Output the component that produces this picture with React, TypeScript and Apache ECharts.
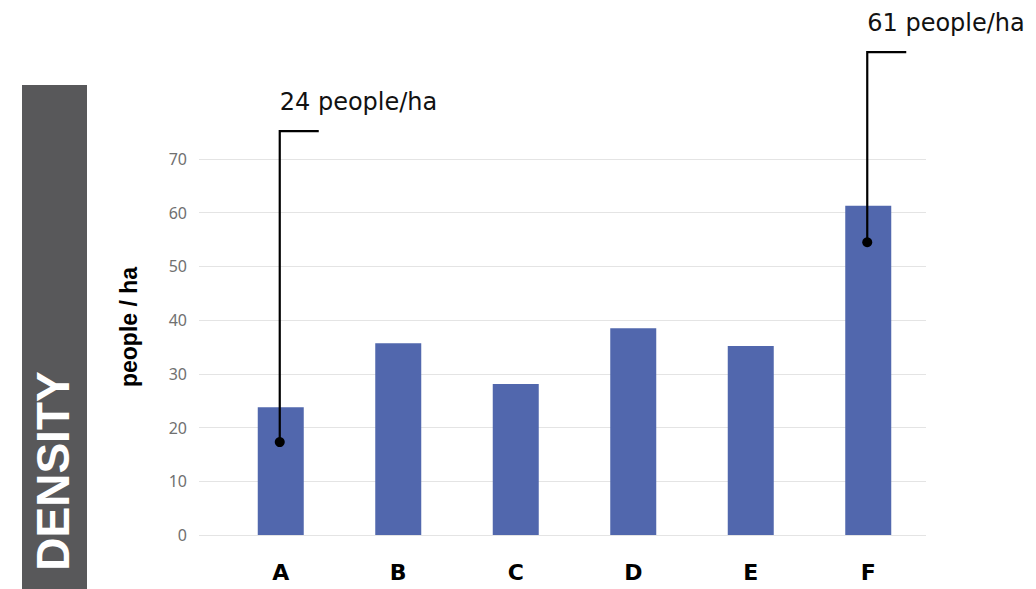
import React, { useEffect, useRef } from "react";
import * as echarts from "echarts";

// Population density per site
const categories = ["A", "B", "C", "D", "E", "F"];
const densityValues = [23.8, 35.7, 28.1, 38.5, 35.2, 61.3];
const yTicks = [0, 10, 20, 30, 40, 50, 60, 70];

// Callouts: which bars are annotated, the stated value, where the dot sits and how high the leader rises
const calloutCategories = ["A", "F"];
const calloutValues = [24, 61];
const calloutDotAt = [17.3, 54.5];
const calloutTopAt = [75.2, 89.9];

const BAR_COLOR = "#5167ad";

export default function App() {
  const ref = useRef<HTMLDivElement>(null);

  useEffect(() => {
    if (!ref.current) return;
    const chart = echarts.init(ref.current, undefined, { renderer: "svg" });
    const yMin = yTicks[0];
    const yMax = yTicks[yTicks.length - 1];

    chart.setOption({
      animation: false,
      grid: [
        // gridlines + tick labels (slightly wider than the bar area)
        { left: 199, right: 110, top: 159, bottom: 54 },
        // bars
        { left: 222, right: 109, top: 159, bottom: 54 },
      ],
      xAxis: [
        { gridIndex: 0, type: "value", show: false, min: 0, max: 1 },
        {
          gridIndex: 1,
          type: "category",
          data: categories,
          axisLine: { show: false },
          axisTick: { show: false },
          axisLabel: {
            color: "#000",
            fontFamily: "DejaVu Sans",
            fontWeight: "bold",
            fontSize: 22,
            margin: 26,
          },
        },
      ],
      yAxis: [
        {
          gridIndex: 0,
          type: "value",
          min: yMin,
          max: yMax,
          interval: 10,
          axisLine: { show: false },
          axisTick: { show: false },
          splitLine: { lineStyle: { color: "#e4e4e4", width: 1 } },
          axisLabel: {
            color: "#707070",
            fontFamily: "Noto Sans",
            fontSize: 16,
            margin: 12,
          },
          name: "people / ha",
          nameLocation: "middle",
          nameGap: 59,
          nameTextStyle: {
            color: "#000",
            fontFamily: "Liberation Sans",
            fontWeight: "bold",
            fontSize: 23,
            padding: [0, 0, 0, 40],
          },
        },
        {
          gridIndex: 1,
          type: "value",
          min: yMin,
          max: yMax,
          interval: 10,
          show: false,
          splitLine: { show: false },
        },
      ],
      series: [
        {
          type: "bar",
          xAxisIndex: 1,
          yAxisIndex: 1,
          data: densityValues,
          barWidth: 46,
          itemStyle: { color: BAR_COLOR },
        },
      ],
    });

    const elements: any[] = [
      {
        type: "rect",
        shape: { x: 22, y: 85, width: 65, height: 504 },
        style: { fill: "#58585a" },
        silent: true,
      },
      {
        type: "text",
        x: 53,
        y: 471,
        rotation: Math.PI / 2,
        style: {
          text: "DENSITY",
          fill: "#ffffff",
          font: "bold 46px 'Liberation Sans', Arial, sans-serif",
          align: "center",
          verticalAlign: "middle",
        },
        silent: true,
      },
    ];

    // Callout leaders positioned from the data through the bar axes
    calloutCategories.forEach((cat, i) => {
      const dot = chart.convertToPixel({ xAxisIndex: 1, yAxisIndex: 1 }, [cat, calloutDotAt[i]]) as number[];
      const top = chart.convertToPixel({ xAxisIndex: 1, yAxisIndex: 1 }, [cat, calloutTopAt[i]]) as number[];
      const x = dot[0] - 1;
      elements.push({
        type: "polyline",
        z: 100,
        shape: { points: [[x, dot[1]], [x, top[1]], [x + 39, top[1]]] },
        style: { stroke: "#000", lineWidth: 2.2, fill: "none" },
        silent: true,
      });
      elements.push({
        type: "circle",
        z: 101,
        shape: { cx: x, cy: dot[1], r: 5 },
        style: { fill: "#000" },
        silent: true,
      });
      elements.push({
        type: "text",
        z: 100,
        x: x,
        y: top[1] - 29,
        style: {
          text: `${calloutValues[i]} people/ha`,
          fill: "#111",
          font: "24px 'DejaVu Sans', sans-serif",
          align: "left",
          verticalAlign: "middle",
        },
        silent: true,
      });
    });

    chart.setOption({ graphic: elements });

    return () => chart.dispose();
  }, []);

  return (
    <div
      ref={ref}
      style={{ position: "fixed", left: 0, top: 0, width: 1036, height: 589, background: "#fff" }}
    />
  );
}
